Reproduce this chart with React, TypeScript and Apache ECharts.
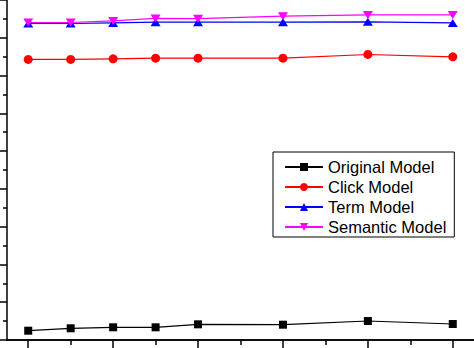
import React, { useEffect, useRef } from "react";
import * as echarts from "echarts";

const categories = ["1", "2", "3", "4", "5", "6", "7", "8", "9", "10", "11"];
const originalModel = [0.246, 0.31, 0.336, 0.336, 0.415, null, 0.405, null, 0.503, null, 0.423];
const clickModel = [7.426, 7.426, 7.442, 7.46, 7.46, null, 7.46, null, 7.558, null, 7.495];
const termModel = [8.378, 8.378, 8.394, 8.413, 8.413, null, 8.413, null, 8.421, null, 8.394];
const semanticModel = [8.405, 8.405, 8.447, 8.511, 8.505, null, 8.571, null, 8.606, null, 8.606];
const seriesNames = ["Original Model", "Click Model", "Term Model", "Semantic Model"];

export default function App() {
  const ref = useRef<HTMLDivElement>(null);
  useEffect(() => {
    if (!ref.current) return;
    const chart = echarts.init(ref.current, null, { renderer: "svg" });
    const axisLine = { show: true, lineStyle: { color: "#000", width: 1.5 } };
    const mkSeries = (name: string, data: any[], color: string, symbol: string, size: any, rotate = 0) => ({
      name,
      type: "line",
      data,
      connectNulls: true,
      symbol,
      symbolSize: size,
      symbolRotate: rotate,
      itemStyle: { color },
      lineStyle: { color, width: 1.2 },
    });
    chart.setOption({
      animation: false,
      grid: { left: 7, right: 0, top: 0, bottom: 8, containLabel: false },
      xAxis: [
        {
          type: "category",
          data: categories,
          boundaryGap: true,
          axisLine,
          axisTick: {
            show: true,
            alignWithLabel: true,
            length: 8,
            interval: (i: number) => i % 2 === 0,
            lineStyle: { color: "#000", width: 1.5 },
          },
          axisLabel: { show: false },
          splitLine: { show: false },
        },
        {
          type: "category",
          data: categories,
          position: "bottom",
          boundaryGap: true,
          axisLine,
          axisTick: {
            show: true,
            alignWithLabel: true,
            length: 5,
            interval: (i: number) => i % 2 === 1,
            lineStyle: { color: "#000", width: 1.5 },
          },
          axisLabel: { show: false },
          splitLine: { show: false },
        },
      ],
      yAxis: {
        type: "value",
        min: 0,
        max: 9,
        interval: 1,
        axisLine,
        axisTick: { show: true, inside: false, length: 7, lineStyle: { color: "#000", width: 1.5 } },
        minorTick: { show: true, splitNumber: 2, length: 4, lineStyle: { color: "#000", width: 1.5 } },
        axisLabel: { show: false },
        splitLine: { show: false },
      },
      legend: {
        orient: "vertical",
        left: 273,
        top: 152,
        data: seriesNames,
        borderColor: "#000",
        borderWidth: 1,
        padding: [5, 8, 0, 11],
        itemGap: 0,
        itemWidth: 38,
        itemHeight: 10,
        textStyle: { fontFamily: "Liberation Sans", fontSize: 16.5, color: "#000", lineHeight: 20 },
      },
      series: [
        mkSeries(seriesNames[0], originalModel, "#000000", "rect", 8),
        mkSeries(seriesNames[1], clickModel, "#ff0000", "circle", 9),
        mkSeries(seriesNames[2], termModel, "#0000ff", "triangle", [10, 8]),
        mkSeries(seriesNames[3], semanticModel, "#ff00ff", "triangle", [10, 8], 180),
      ],
    });
    return () => chart.dispose();
  }, []);
  return <div ref={ref} style={{ position: "fixed", left: 0, top: 0, width: 474, height: 348, background: "#fff" }} />;
}
